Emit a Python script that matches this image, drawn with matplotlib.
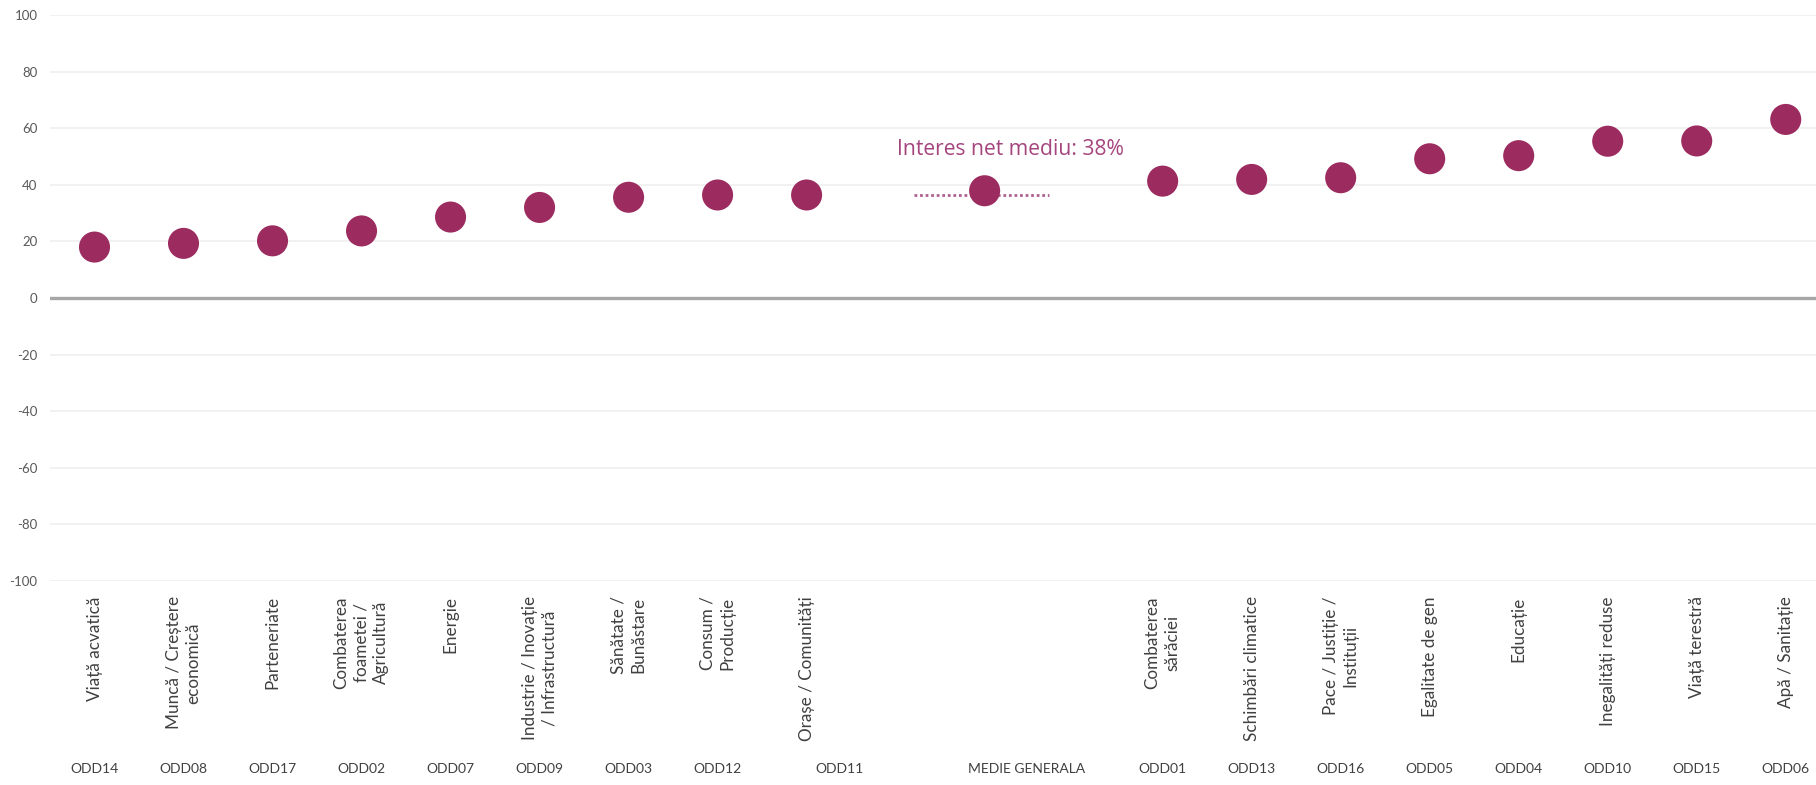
import numpy as np
import matplotlib
matplotlib.use('Agg')
from matplotlib import pyplot
from matplotlib import transforms

# slots, including two empty ones around the overall average
codes = ['ODD14', 'ODD08', 'ODD17', 'ODD02', 'ODD07', 'ODD09', 'ODD03', 'ODD12', 'ODD11',
         '', 'MEDIE GENERALA', '',
         'ODD01', 'ODD13', 'ODD16', 'ODD05', 'ODD04', 'ODD10', 'ODD15', 'ODD06']
names = ['Viață acvatică', 'Muncă / Creștere\neconomică', 'Parteneriate',
         'Combaterea\nfoametei /\nAgricultură', 'Energie',
         'Industrie / Inovație\n/ Infrastructură', 'Sănătate /\nBunăstare',
         'Consum /\nProducție', 'Orașe / Comunități',
         '', '', '',
         'Combaterea\nsărăciei', 'Schimbări climatice', 'Pace / Justiție /\nInstituții',
         'Egalitate de gen', 'Educație', 'Inegalități reduse', 'Viață terestră',
         'Apă / Sanitație']
net_interest = [18.0, 19.3, 20.2, 23.7, 28.6, 32.0, 35.6, 36.4, 36.4,
                np.nan, 37.9, np.nan,
                41.3, 41.9, 42.5, 49.2, 50.3, 55.4, 55.5, 63.1]
avg_label = 'Interes net mediu: 38%'
avg_line_value = 36.4
y_ticks = [-100, -80, -60, -40, -20, 0, 20, 40, 60, 80, 100]

# a couple of the bottom code labels sit off-centre in the original
code_nudge = {'ODD11': 0.37, 'MEDIE GENERALA': 0.47}

DOT = '#9c2b60'
TEXT = '#595959'

pyplot.rcParams['axes.unicode_minus'] = False
pyplot.rcParams['font.family'] = ['Lato', 'DejaVu Sans']

fig = pyplot.figure(figsize=(18.16, 7.85), dpi=100)
ax = fig.add_axes([50 / 1816, 204 / 785, 1 - 50 / 1816, 566 / 785])

x = np.arange(len(codes))
ax.scatter(x, net_interest, s=500, color=DOT, edgecolors='none', zorder=3)

ax.set_xlim(-0.5, 19.34)
ax.set_ylim(-100, 100)
ax.set_yticks(y_ticks)
ax.set_yticklabels([str(t) for t in y_ticks], fontsize=9.5, color=TEXT)
ax.tick_params(axis='y', length=0, pad=9)
ax.set_xticks([])
for s in ax.spines.values():
    s.set_visible(False)

for t in y_ticks:
    if t == 0:
        ax.axhline(t, color='#a6a6a6', linewidth=2.4, zorder=1)
    else:
        ax.axhline(t, color='#eeeeee', linewidth=1.1, zorder=0)

# average marker
i_avg = codes.index('MEDIE GENERALA')
ax.plot([i_avg - 0.79, i_avg + 0.72], [avg_line_value, avg_line_value],
        linestyle=(0, (1, 1)), color='#b0608e', linewidth=2, zorder=2)
ax.text(i_avg + 0.29, 52.3, avg_label, ha='center', va='center',
        fontsize=15.2, color='#a5457e', family=['Open Sans', 'DejaVu Sans'])

trans = transforms.blended_transform_factory(ax.transData, ax.transAxes)
for i, name in enumerate(names):
    if name:
        ax.text(i, -0.027, name, transform=trans, rotation=90, ha='center', va='top',
                multialignment='center', fontsize=12.3, color='#404040', linespacing=1.3)
for i, code in enumerate(codes):
    if code:
        ax.text(i + code_nudge.get(code, 0), -0.333, code, transform=trans,
                ha='center', va='center', fontsize=10, color='#404040')

fig.savefig('out.png', dpi=100)
pyplot.close(fig)
